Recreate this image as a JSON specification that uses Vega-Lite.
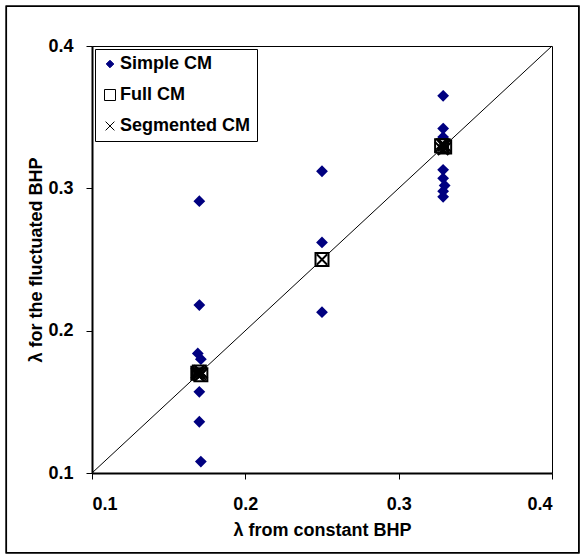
{
  "$schema": "https://vega.github.io/schema/vega-lite/v6.json",
  "width": 460,
  "height": 427,
  "autosize": "none",
  "padding": {"left": 92, "top": 46, "right": 33, "bottom": 83},
  "background": "white",
  "datasets": {
    "pts": [
      {"series": "Simple CM", "lx": 0.17, "ly": 0.291},
      {"series": "Simple CM", "lx": 0.17, "ly": 0.218},
      {"series": "Simple CM", "lx": 0.169, "ly": 0.184},
      {"series": "Simple CM", "lx": 0.171, "ly": 0.18},
      {"series": "Simple CM", "lx": 0.17, "ly": 0.157},
      {"series": "Simple CM", "lx": 0.17, "ly": 0.136},
      {"series": "Simple CM", "lx": 0.171, "ly": 0.108},
      {"series": "Simple CM", "lx": 0.25, "ly": 0.312},
      {"series": "Simple CM", "lx": 0.25, "ly": 0.262},
      {"series": "Simple CM", "lx": 0.25, "ly": 0.213},
      {"series": "Simple CM", "lx": 0.329, "ly": 0.365},
      {"series": "Simple CM", "lx": 0.329, "ly": 0.342},
      {"series": "Simple CM", "lx": 0.329, "ly": 0.336},
      {"series": "Simple CM", "lx": 0.329, "ly": 0.313},
      {"series": "Simple CM", "lx": 0.329, "ly": 0.307},
      {"series": "Simple CM", "lx": 0.33, "ly": 0.302},
      {"series": "Simple CM", "lx": 0.329, "ly": 0.298},
      {"series": "Simple CM", "lx": 0.329, "ly": 0.294},
      {"series": "Full CM", "lx": 0.169, "ly": 0.17},
      {"series": "Full CM", "lx": 0.17, "ly": 0.171},
      {"series": "Full CM", "lx": 0.171, "ly": 0.169},
      {"series": "Full CM", "lx": 0.25, "ly": 0.25},
      {"series": "Full CM", "lx": 0.329, "ly": 0.33},
      {"series": "Full CM", "lx": 0.33, "ly": 0.329},
      {"series": "Full CM", "lx": 0.328, "ly": 0.33},
      {"series": "Segmented CM", "lx": 0.17, "ly": 0.17},
      {"series": "Segmented CM", "lx": 0.169, "ly": 0.169},
      {"series": "Segmented CM", "lx": 0.171, "ly": 0.171},
      {"series": "Segmented CM", "lx": 0.17, "ly": 0.168},
      {"series": "Segmented CM", "lx": 0.168, "ly": 0.17},
      {"series": "Segmented CM", "lx": 0.172, "ly": 0.17},
      {"series": "Segmented CM", "lx": 0.17, "ly": 0.172},
      {"series": "Segmented CM", "lx": 0.169, "ly": 0.171},
      {"series": "Segmented CM", "lx": 0.171, "ly": 0.169},
      {"series": "Segmented CM", "lx": 0.25, "ly": 0.25},
      {"series": "Segmented CM", "lx": 0.329, "ly": 0.33},
      {"series": "Segmented CM", "lx": 0.33, "ly": 0.328},
      {"series": "Segmented CM", "lx": 0.328, "ly": 0.331},
      {"series": "Segmented CM", "lx": 0.327, "ly": 0.329},
      {"series": "Segmented CM", "lx": 0.331, "ly": 0.329},
      {"series": "Segmented CM", "lx": 0.329, "ly": 0.327},
      {"series": "Segmented CM", "lx": 0.329, "ly": 0.331},
      {"series": "Segmented CM", "lx": 0.33, "ly": 0.33}
    ],
    "diag": [
      {"lx": 0.1, "ly": 0.1},
      {"lx": 0.4, "ly": 0.4}
    ]
  },
  "config": {
    "font": "Liberation Sans",
    "view": {"stroke": "black", "strokeWidth": 1},
    "axis": {
      "domainColor": "black",
      "domainWidth": 2,
      "tickColor": "black",
      "tickSize": 6,
      "tickWidth": 1,
      "grid": false,
      "labelFont": "Liberation Sans",
      "labelFontSize": 18,
      "labelFontWeight": "bold",
      "labelColor": "black",
      "titleFont": "Liberation Sans",
      "titleFontSize": 18,
      "titleFontWeight": "bold",
      "titleColor": "black"
    },
    "axisX": {"labelPadding": 16, "titlePadding": 8},
    "axisY": {"labelPadding": 13, "titlePadding": 2},
    "legend": {
      "orient": "top-left",
      "offset": 3,
      "padding": 6,
      "strokeColor": "black",
      "fillColor": "white",
      "labelFont": "Liberation Sans",
      "labelFontSize": 18,
      "labelFontWeight": "bold",
      "labelColor": "black",
      "symbolSize": 121,
      "symbolStrokeWidth": 1,
      "rowPadding": 13,
      "labelOffset": 1,
      "labelLimit": 300
    }
  },
  "layer": [
    {
      "data": {"name": "diag"},
      "mark": {"type": "rect", "fill": null, "stroke": "black", "strokeWidth": 1.5, "clip": false},
      "encoding": {
        "x": {"datum": 0.0441, "type": "quantitative", "scale": {"domain": [0.1, 0.4], "nice": false, "zero": false}, "title": "λ from constant BHP"},
        "x2": {"datum": 0.4175},
        "y": {"datum": 0.4279, "type": "quantitative", "scale": {"domain": [0.1, 0.4], "nice": false, "zero": false}, "title": "λ for the fluctuated BHP"},
        "y2": {"datum": 0.0439}
      }
    },
    {
      "data": {"name": "diag"},
      "mark": {"type": "line", "color": "black", "strokeWidth": 1},
      "encoding": {
        "x": {"field": "lx", "type": "quantitative", "title": "λ from constant BHP"},
        "y": {"field": "ly", "type": "quantitative", "title": "λ for the fluctuated BHP"}
      }
    },
    {
      "data": {"name": "pts"},
      "mark": {"type": "point", "filled": false, "strokeWidth": 2, "opacity": 1, "size": 169},
      "encoding": {
        "x": {
          "field": "lx", "type": "quantitative",
          "scale": {"domain": [0.1, 0.4], "nice": false, "zero": false},
          "axis": {"values": [0.1, 0.2, 0.3, 0.4], "format": ".1f"},
          "title": "λ from constant BHP"
        },
        "y": {
          "field": "ly", "type": "quantitative",
          "scale": {"domain": [0.1, 0.4], "nice": false, "zero": false},
          "axis": {"values": [0.1, 0.2, 0.3, 0.4], "format": ".1f"},
          "title": "λ for the fluctuated BHP"
        },
        "shape": {
          "field": "series", "type": "nominal",
          "scale": {"domain": ["Simple CM", "Full CM", "Segmented CM"], "range": ["M0,-0.69L0.69,0L0,0.69L-0.69,0Z", "M-1,-1L1,-1L1,1L-1,1Z", "M-0.8,-0.8L0.8,0.8M-0.8,0.8L0.8,-0.8"]},
          "legend": {"title": null, "symbolSize": 121, "symbolStrokeWidth": 1}
        },
        "fill": {
          "field": "series", "type": "nominal",
          "scale": {"domain": ["Simple CM", "Full CM", "Segmented CM"], "range": ["#000080", "white", "transparent"]},
          "legend": {"title": null, "symbolSize": 121, "symbolStrokeWidth": 1}
        },
        "stroke": {
          "field": "series", "type": "nominal",
          "scale": {"domain": ["Simple CM", "Full CM", "Segmented CM"], "range": ["#000080", "black", "black"]},
          "legend": {"title": null, "symbolSize": 121, "symbolStrokeWidth": 1}
        }
      }
    }
  ]
}
